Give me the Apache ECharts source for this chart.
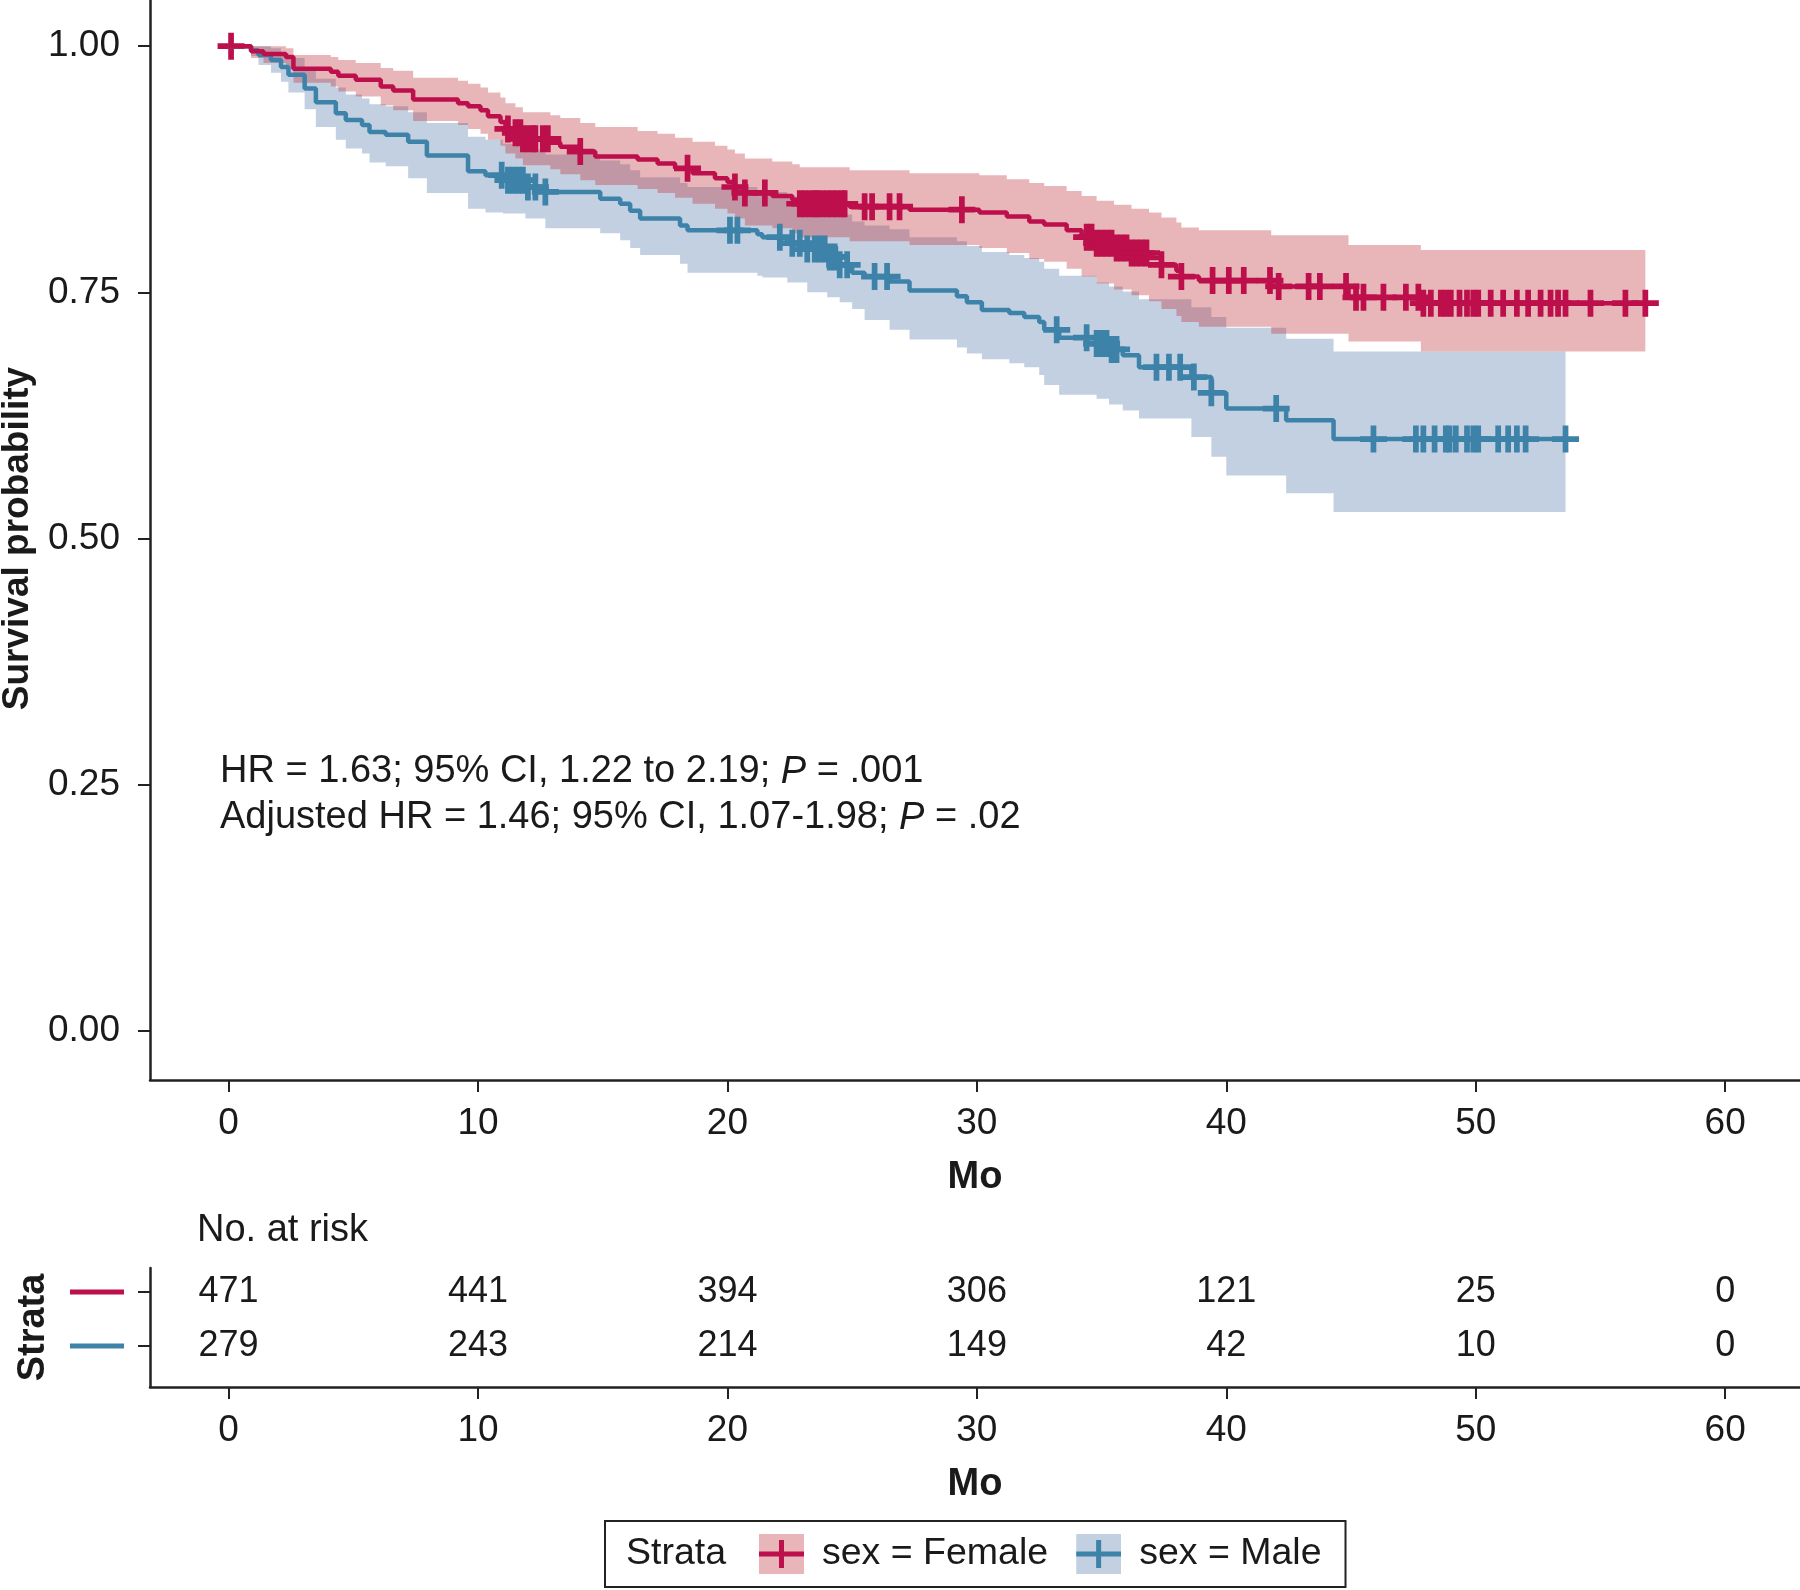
<!DOCTYPE html>
<html>
<head>
<meta charset="utf-8">
<script src="https://cdn.jsdelivr.net/npm/echarts@6/dist/echarts.min.js"></script>
<style>html,body{margin:0;padding:0;background:#fff;}#chart{width:1800px;height:1590px;}</style>
</head>
<body>
<div id="chart"></div>
<script>
// ---------- data ----------
const femaleTime  = [0,0.9,1.4,2.3,2.6,4.1,4.4,5.1,6.1,6.6,7.4,9.2,9.6,10.1,10.4,10.9,11.1,11.5,11.8,12.9,13.3,14.1,14.7,16.4,17.2,17.9,18.6,19.5,20.0,20.3,20.7,21.8,22.6,22.9,24.9,27.3,30.1,31.2,32.1,32.7,33.6,34.2,34.8,35.5,36.2,36.9,37.4,38.0,38.2,38.9,41.8,44.9,47.8,56.8];
const femaleSurv  = [1.000,0.995,0.992,0.989,0.977,0.974,0.970,0.966,0.959,0.955,0.946,0.942,0.939,0.935,0.929,0.923,0.916,0.912,0.906,0.902,0.898,0.893,0.888,0.885,0.881,0.876,0.871,0.866,0.862,0.857,0.851,0.848,0.844,0.840,0.837,0.834,0.831,0.827,0.822,0.819,0.813,0.806,0.800,0.795,0.790,0.785,0.778,0.772,0.766,0.762,0.756,0.745,0.739,0.739];
const femaleLower = [1.000,0.988,0.983,0.979,0.963,0.959,0.954,0.949,0.940,0.935,0.924,0.920,0.916,0.911,0.905,0.899,0.891,0.886,0.879,0.875,0.870,0.864,0.859,0.855,0.851,0.846,0.840,0.835,0.830,0.825,0.818,0.815,0.810,0.806,0.802,0.798,0.795,0.790,0.784,0.781,0.774,0.766,0.759,0.753,0.747,0.741,0.733,0.726,0.720,0.715,0.708,0.700,0.690,0.690];
const femaleUpper = [1.000,1.000,1.000,0.998,0.991,0.989,0.986,0.983,0.978,0.975,0.968,0.965,0.962,0.958,0.953,0.948,0.942,0.938,0.933,0.930,0.927,0.922,0.918,0.914,0.911,0.907,0.903,0.899,0.895,0.891,0.886,0.883,0.880,0.877,0.874,0.871,0.869,0.865,0.861,0.858,0.853,0.848,0.843,0.839,0.835,0.831,0.826,0.821,0.816,0.813,0.808,0.798,0.793,0.793];
const femaleCensor = [0.1,11.2,11.5,11.7,11.8,12.0,12.2,12.3,12.6,12.8,14.1,18.4,20.3,20.7,21.5,22.9,23.1,23.3,23.5,23.6,23.8,24.0,24.2,24.4,24.6,24.7,25.5,25.8,26.5,26.9,29.4,34.4,34.6,34.8,35.0,35.2,35.4,35.6,35.8,36.0,36.2,36.4,36.6,36.8,37.4,38.2,39.45,40.1,40.7,41.75,42.1,43.3,43.75,44.8,45.2,45.5,46.3,47.2,47.7,47.9,48.2,48.6,48.8,49.0,49.35,49.65,49.9,50.1,50.6,51.1,51.65,52.1,52.6,53.0,53.3,53.6,54.6,56.0,56.8];

const maleTime  = [0,0.9,1.2,1.7,2.1,2.4,3.05,3.5,4.3,4.7,5.35,5.65,6.3,7.2,7.95,9.6,10.3,11.0,11.9,12.7,14.9,15.7,16.1,16.5,18.1,18.4,21.2,21.4,22.4,23.2,24.0,24.5,25.0,25.5,26.5,27.3,29.2,29.6,30.2,31.3,31.9,32.5,32.7,33.3,34.8,35.3,35.85,36.5,38.6,39.4,40.0,42.4,44.3,53.6];
const maleSurv  = [1.000,0.996,0.991,0.986,0.979,0.971,0.957,0.943,0.932,0.925,0.920,0.913,0.910,0.903,0.889,0.873,0.869,0.864,0.857,0.852,0.845,0.840,0.833,0.825,0.818,0.813,0.809,0.806,0.800,0.794,0.786,0.778,0.770,0.766,0.761,0.752,0.746,0.740,0.732,0.729,0.725,0.720,0.712,0.704,0.698,0.692,0.686,0.674,0.664,0.648,0.632,0.620,0.601,0.601];
const maleLower = [1.000,0.990,0.981,0.973,0.964,0.953,0.936,0.918,0.905,0.896,0.891,0.882,0.878,0.866,0.851,0.835,0.831,0.830,0.825,0.815,0.810,0.803,0.795,0.788,0.779,0.770,0.767,0.765,0.760,0.750,0.745,0.740,0.733,0.722,0.712,0.702,0.694,0.688,0.682,0.678,0.674,0.666,0.656,0.646,0.642,0.636,0.630,0.622,0.603,0.583,0.564,0.546,0.527,0.527];
const maleUpper = [1.000,1.000,1.000,0.998,0.993,0.988,0.978,0.967,0.958,0.951,0.947,0.941,0.939,0.933,0.922,0.908,0.905,0.901,0.895,0.890,0.884,0.880,0.874,0.867,0.861,0.857,0.854,0.852,0.847,0.842,0.835,0.829,0.822,0.818,0.814,0.806,0.802,0.797,0.791,0.788,0.785,0.781,0.774,0.767,0.760,0.756,0.751,0.743,0.735,0.725,0.714,0.703,0.690,0.690];
const maleCensor = [10.95,11.2,11.4,11.6,11.8,12.0,12.3,12.7,20.1,20.4,22.1,22.6,22.9,23.2,23.5,23.7,23.9,24.1,24.3,24.5,24.8,25.9,26.4,33.2,34.4,34.8,35.0,35.2,35.4,35.6,37.2,37.7,38.15,38.7,39.4,42.0,45.9,47.6,47.9,48.35,48.8,48.95,49.2,49.65,49.9,50.1,50.9,51.3,51.65,52.0,53.6];

const riskTimes  = [0,10,20,30,40,50,60];
const riskFemale = [471,441,394,306,121,25,0];
const riskMale   = [279,243,214,149,42,10,0];

const xTicks = [0,10,20,30,40,50,60];
const yTicks = [0,0.25,0.5,0.75,1];
const annotationLines = [
  ['HR = 1.63; 95% CI, 1.22 to 2.19; ', 'P', ' = .001'],
  ['Adjusted HR = 1.46; 95% CI, 1.07-1.98; ', 'P', ' = .02']
];

// ---------- style ----------
const FONT = "'Liberation Sans', Arial, Helvetica, sans-serif";
const TXT = '#1a1a1a';
const AX = '#222';
const F_LINE = '#BC0F4B', M_LINE = '#3D82A8';
const F_BAND = 'rgba(189,46,55,0.35)', M_BAND = 'rgba(84,121,169,0.35)';
const F_KEY = '#E8B6B9', M_KEY = '#C3D0E1';

function pairs(t, v) { return t.map((x, i) => [x, v[i]]); }
function survAt(t, s, x) { let k = 0; for (let i = 0; i < t.length; i++) if (t[i] <= x) k = i; return s[k]; }
function censorPts(c, t, s) { return c.map(x => [x, survAt(t, s, x)]); }

// step-shaped confidence band, positioned with the chart's own scales (api.coord)
function bandSeries(name, t, lo, up, color) {
  return {
    name: name, type: 'custom', silent: true, clip: true,
    data: t.map((x, i) => [x, lo[i], up[i]]),
    encode: { x: 0, y: [1, 2] },
    renderItem: function (params, api) {
      if (params.dataIndex !== 0) return null;
      const pts = [];
      for (let i = 0; i < t.length; i++) {
        pts.push(api.coord([t[i], up[i]]));
        if (i < t.length - 1) pts.push(api.coord([t[i + 1], up[i]]));
      }
      for (let i = t.length - 1; i >= 0; i--) {
        if (i < t.length - 1) pts.push(api.coord([t[i + 1], lo[i]]));
        pts.push(api.coord([t[i], lo[i]]));
      }
      return { type: 'polygon', shape: { points: pts }, style: { fill: color } };
    }
  };
}

const plusPath = 'path://M10.25,0H15.75V10.25H26V15.75H15.75V26H10.25V15.75H0V10.25H10.25Z';
function keyIcon(bg, fg) {
  const svg = "<svg xmlns='http://www.w3.org/2000/svg' width='45' height='40' viewBox='0 0 45 40'>" +
    "<rect width='45' height='40' fill='" + bg + "'/>" +
    "<rect x='0' y='17.5' width='45' height='5' fill='" + fg + "'/>" +
    "<rect x='20' y='6' width='5' height='28' fill='" + fg + "'/></svg>";
  return 'image://data:image/svg+xml;charset=utf-8,' + encodeURIComponent(svg);
}

const axisLineStyle = { show: true, onZero: false, lineStyle: { color: AX, width: 2.5 } };
const tickStyle = (vals) => ({ show: true, length: 12, lineStyle: { color: AX, width: 2 }, customValues: vals });

const xAxisDef = (gi) => ({
  type: 'value', gridIndex: gi, min: -3.15, max: 63,
  axisLine: axisLineStyle, splitLine: { show: false },
  name: 'Mo', nameLocation: 'middle', nameGap: 79,
  nameTextStyle: { fontSize: 38, fontWeight: 'bold', color: TXT, fontFamily: FONT },
  axisTick: tickStyle(xTicks),
  axisLabel: { customValues: xTicks, fontSize: 37, color: TXT, fontFamily: FONT, margin: 25 }
});

const richAnn = {
  a: { fontSize: 38, lineHeight: 46, color: TXT, fontFamily: FONT, fontWeight: 'normal' },
  b: { fontSize: 38, lineHeight: 46, color: TXT, fontFamily: FONT, fontWeight: 'normal', fontStyle: 'italic' }
};
const annText = annotationLines.map(l => '{a|' + l[0] + '}{b|' + l[1] + '}{a|' + l[2] + '}').join('\n');

const riskLabel = { show: true, position: 'inside', formatter: p => String(p.value[2]),
  fontSize: 36, color: TXT, fontFamily: FONT, fontWeight: 'normal' };

const option = {
  animation: false,
  backgroundColor: '#fff',
  title: [
    { text: annText, left: 220, top: 749, padding: 0,
      textStyle: { fontWeight: 'normal', fontSize: 38, color: TXT, fontFamily: FONT, rich: richAnn } },
    { text: 'No. at risk', left: 197, top: 1212, padding: 0,
      textStyle: { fontSize: 38, fontWeight: 'normal', color: TXT, fontFamily: FONT } }
  ],
  grid: [
    { left: 150, right: 0, top: -3, bottom: 510, containLabel: false, outerBoundsMode: 'none' },
    { left: 150, right: 0, top: 1268, bottom: 203, containLabel: false, outerBoundsMode: 'none' }
  ],
  xAxis: [xAxisDef(0), xAxisDef(1)],
  yAxis: [
    {
      type: 'value', gridIndex: 0, min: -0.05, max: 1.05,
      axisLine: axisLineStyle, splitLine: { show: false },
      name: 'Survival probability', nameLocation: 'middle', nameGap: 114,
      nameTextStyle: { fontSize: 37, fontWeight: 'bold', color: TXT, fontFamily: FONT },
      axisTick: tickStyle(yTicks),
      axisLabel: { customValues: yTicks, fontSize: 37, color: TXT, fontFamily: FONT, margin: 30,
        formatter: v => v.toFixed(2) }
    },
    {
      type: 'value', gridIndex: 1, min: -0.76, max: 1.444,
      axisLine: axisLineStyle, splitLine: { show: false },
      name: 'Strata', nameLocation: 'middle', nameGap: 97,
      nameTextStyle: { fontSize: 38, fontWeight: 'bold', color: TXT, fontFamily: FONT },
      axisTick: tickStyle([0, 1]),
      axisLabel: { customValues: [0, 1], margin: 26,
        formatter: v => (v === 1 ? '{f| }' : '{m| }'),
        rich: { f: { width: 54, height: 5, backgroundColor: F_LINE },
                m: { width: 54, height: 5, backgroundColor: M_LINE } } }
    }
  ],
  legend: {
    left: 605, top: 1521, orient: 'horizontal',
    itemWidth: 45, itemHeight: 40, itemGap: 28,
    padding: [13, 24, 13, 154],
    borderColor: '#222', borderWidth: 2, borderRadius: 0, backgroundColor: '#fff',
    selectedMode: false,
    textStyle: { fontSize: 37.5, color: TXT, fontFamily: FONT, padding: [0, 0, 0, 13] },
    data: [
      { name: 'sex = Female', icon: keyIcon(F_KEY, F_LINE) },
      { name: 'sex = Male', icon: keyIcon(M_KEY, M_LINE) }
    ]
  },
  graphic: [
    { type: 'text', left: 626, top: 1535, z: 100,
      style: { text: 'Strata', fontSize: 37.5, fontFamily: FONT, fill: TXT } }
  ],
  series: [
    bandSeries('maleCI', maleTime, maleLower, maleUpper, M_BAND),
    bandSeries('femaleCI', femaleTime, femaleLower, femaleUpper, F_BAND),
    { name: 'sex = Male', type: 'line', step: 'end', data: pairs(maleTime, maleSurv), symbol: 'none',
      itemStyle: { color: M_LINE }, lineStyle: { color: M_LINE, width: 4.5 } },
    { name: 'sex = Female', type: 'line', step: 'end', data: pairs(femaleTime, femaleSurv), symbol: 'none',
      itemStyle: { color: F_LINE }, lineStyle: { color: F_LINE, width: 4.5 } },
    { name: 'maleCensor', type: 'scatter', data: censorPts(maleCensor, maleTime, maleSurv),
      symbol: plusPath, symbolSize: 27, itemStyle: { color: M_LINE, opacity: 1 }, silent: true },
    { name: 'femaleCensor', type: 'scatter', data: censorPts(femaleCensor, femaleTime, femaleSurv),
      symbol: plusPath, symbolSize: 27, itemStyle: { color: F_LINE, opacity: 1 }, silent: true },
    { name: 'riskF', type: 'scatter', xAxisIndex: 1, yAxisIndex: 1,
      data: riskTimes.map((t, i) => [t, 1, riskFemale[i]]),
      symbolSize: 0, itemStyle: { color: TXT, opacity: 1 }, silent: true, label: riskLabel },
    { name: 'riskM', type: 'scatter', xAxisIndex: 1, yAxisIndex: 1,
      data: riskTimes.map((t, i) => [t, 0, riskMale[i]]),
      symbolSize: 0, itemStyle: { color: TXT, opacity: 1 }, silent: true, label: riskLabel }
  ]
};

const chart = echarts.init(document.getElementById('chart'), null, { renderer: 'canvas' });
chart.setOption(option);
</script>
</body>
</html>
